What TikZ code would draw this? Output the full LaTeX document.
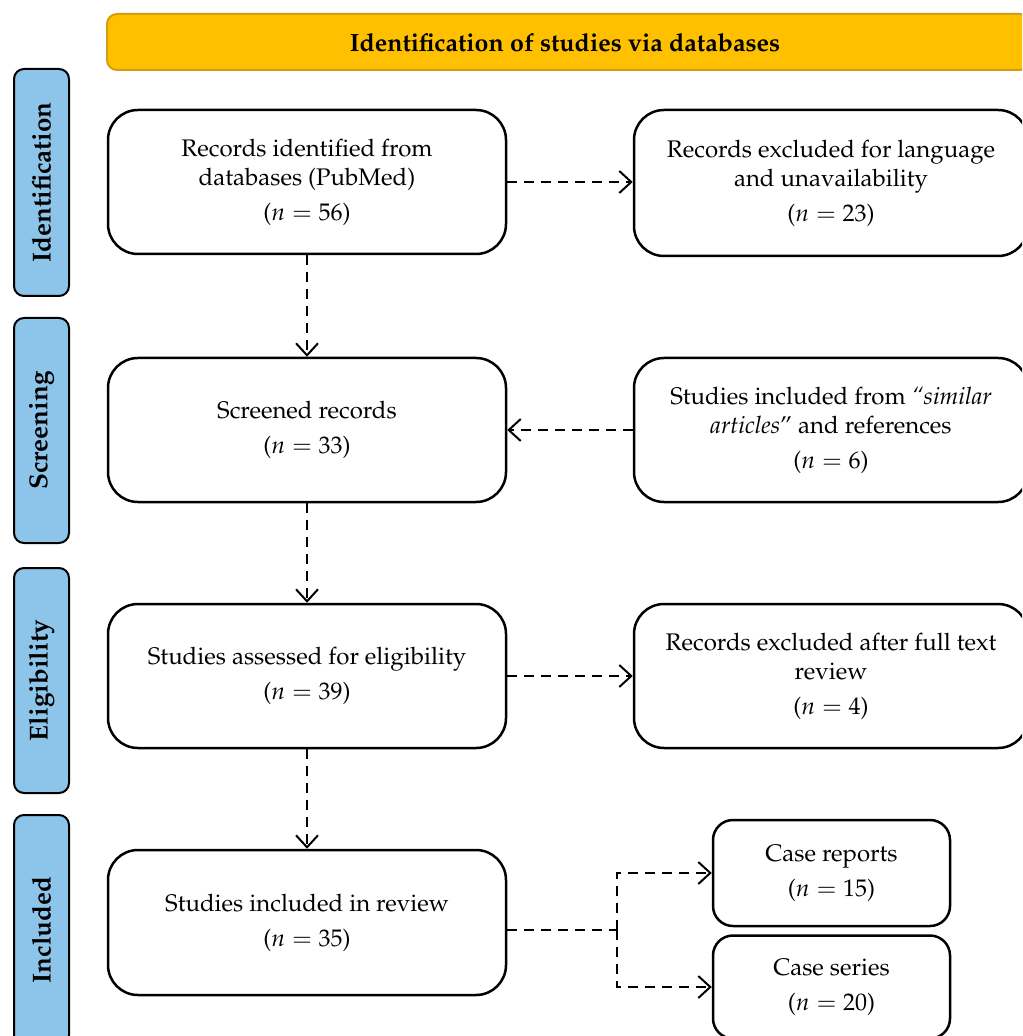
\documentclass[tikz,border=0pt]{standalone}
\usepackage[T1]{fontenc}
\usepackage{mathpazo}
\usetikzlibrary{arrows.meta,calc}
\definecolor{hdrfill}{HTML}{FFC000}
\definecolor{hdrline}{HTML}{D39C12}
\definecolor{sidefill}{HTML}{8DC4EA}
\tikzset{
  mainbox/.style={draw=black,line width=1.25pt,rounded corners=15pt,fill=white,align=center,
    font=\fontsize{12}{14.5}\selectfont,inner sep=0pt},
  casebox/.style={draw=black,line width=1.25pt,rounded corners=10pt,fill=white,align=center,
    font=\fontsize{12}{14.5}\selectfont,inner sep=0pt,minimum width=118.5pt},
  sidebox/.style={draw=black,line width=1pt,rounded corners=5pt,fill=sidefill,rotate=90,
    font=\bfseries\fontsize{13}{15}\selectfont,minimum height=27.5pt,inner sep=0pt},
  conn/.style={line width=1pt,dash pattern=on 5pt off 3.5pt},
  arr/.style={conn,-{Straight Barb[length=6pt,width=11pt,line width=1pt]}}
}
\begin{document}
\begin{tikzpicture}[x=0.5pt,y=-0.5pt]
\useasboundingbox (0,0) rectangle (1022,1036);
\clip (0,0) rectangle (1022,1036);
% header
\node[draw=hdrline,line width=1pt,fill=hdrfill,rounded corners=5pt,minimum width=461.5pt,minimum height=28pt,inner sep=0pt]
  (hdr) at (568.5,42) {};
\node[font=\bfseries\fontsize{12.5}{14}\selectfont] (hdrtxt) at (565,43) {Identification of studies via databases};
% side labels
\node[sidebox,minimum width=113.5pt] (s1) at (41.5,182.5) {Identification};
\node[sidebox,minimum width=112.5pt] (s2) at (41.5,430.5) {Screening};
\node[sidebox,minimum width=112.5pt] (s3) at (41.5,680.5) {Eligibility};
\node[sidebox,minimum width=115pt] (s4) at (41.5,930) {Included};
% left boxes
\node[mainbox,minimum width=199pt,minimum height=72pt] (b1) at (307,182)
  {Records identified from\\databases (PubMed)\\[3pt]($n = 56$)};
\node[mainbox,minimum width=199pt,minimum height=72pt] (b2) at (307,430)
  {Screened records\\[3pt]($n = 33$)};
\node[mainbox,minimum width=199pt,minimum height=72pt] (b3) at (307,676)
  {Studies assessed for eligibility\\[3pt]($n = 39$)};
\node[mainbox,minimum width=199pt,minimum height=72.5pt] (b4) at (307,922.5)
  {Studies included in review\\[3pt]($n = 35$)};
% right boxes
\node[mainbox,minimum width=197pt,minimum height=73pt] (r1) at (831,183)
  {Records excluded for language\\and unavailability\\[3pt]($n = 23$)};
\node[mainbox,minimum width=197pt,minimum height=72pt] (r2) at (831,430)
  {Studies included from \textit{``similar}\\\textit{articles}'' and references\\[3pt]($n = 6$)};
\node[mainbox,minimum width=197pt,minimum height=72pt] (r3) at (831,676)
  {Records excluded after full text\\review\\[3pt]($n = 4$)};
% case boxes
\node[casebox,minimum height=53pt] (c1) at (831.5,873)
  {Case reports\\[3pt]($n = 15$)};
\node[casebox,minimum height=51.5pt] (c2) at (831.5,987)
  {Case series\\[3pt]($n = 20$)};
% connectors
\draw[arr] (b1.south) -- (b2.north);
\draw[arr] (b2.south) -- (b3.north);
\draw[arr] (b3.south) -- (b4.north);
\draw[arr] (b1.east) -- (r1.west |- b1.east);
\draw[arr] (r2.west) -- (b2.east);
\draw[arr] (b3.east) -- (r3.west);
\coordinate (sp) at (617,930);
\draw[conn] (b4.east |- sp) -- (sp);
\draw[arr] (sp) |- (c1.west);
\draw[arr] (sp) |- (c2.west);
\end{tikzpicture}
\end{document}
